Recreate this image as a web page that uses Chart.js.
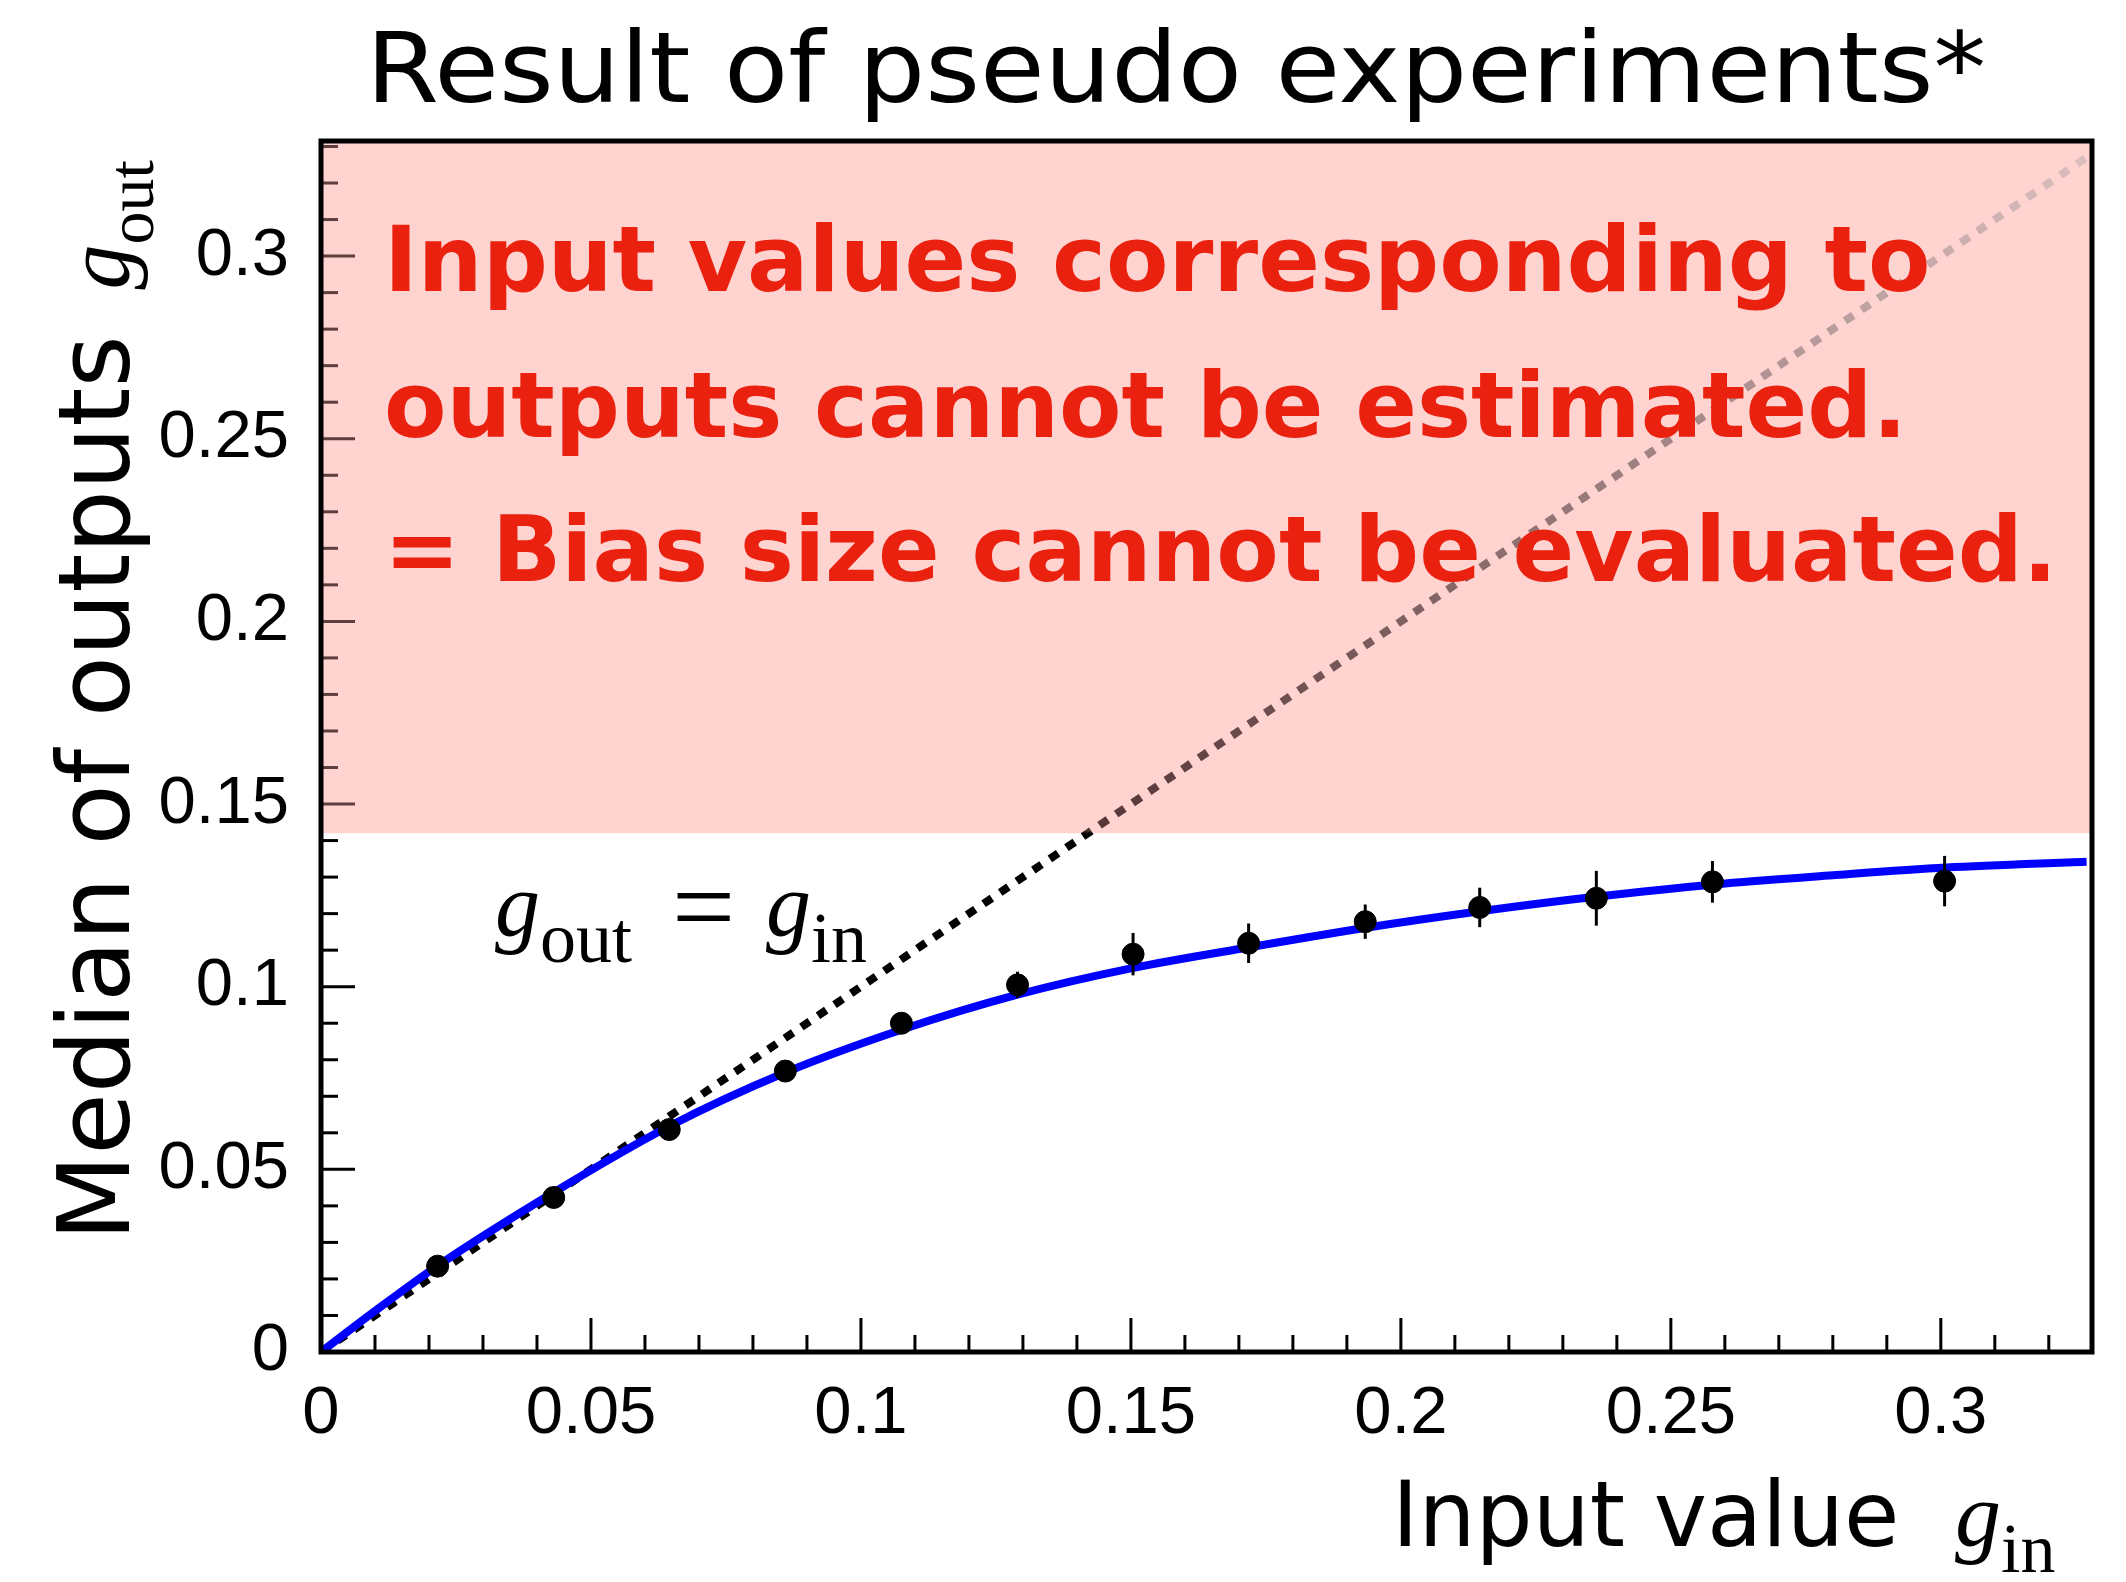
<!DOCTYPE html>
<html>
<head>
<meta charset="utf-8">
<title>Result of pseudo experiments</title>
<script src="https://cdn.jsdelivr.net/npm/chart.js@4.4.1/dist/chart.umd.min.js"></script>
<style>
html,body{margin:0;padding:0;background:#fff;}
#wrap{width:2126px;height:1582px;}
</style>
</head>
<body>
<div id="wrap"><canvas id="chart" width="2126" height="1582"></canvas></div>
<script>
// values
const gIn=[0.0216,0.0431,0.0645,0.086,0.1075,0.129,0.1504,0.1718,0.1934,0.2146,0.2362,0.2577,0.3007];
const gOutMedian=[0.0235,0.0423,0.0609,0.0769,0.0900,0.1005,0.1089,0.1119,0.1178,0.1217,0.1242,0.1287,0.1289];
const gOutErr=[0.001,0.0012,0.0015,0.002,0.0025,0.0036,0.0058,0.0054,0.0047,0.0054,0.0075,0.0057,0.0069];

// fitted curve (blue), read at points along the line
const fitIn=[0,0.01,0.0216,0.043,0.0645,0.086,0.1075,0.129,0.15,0.172,0.193,0.215,0.236,0.258,0.28,0.301,0.327];
const fitOut=[0,0.0112,0.0236,0.0436,0.0618,0.0765,0.0882,0.0978,0.1050,0.1108,0.1160,0.1207,0.1246,0.1280,0.1305,0.1326,0.1342];

// g_out = g_in reference line
const diagIn=[0,0.328];
const diagOut=[0,0.328];

const xTicks=[0,0.05,0.1,0.15,0.2,0.25,0.3];
const yTicks=[0,0.05,0.1,0.15,0.2,0.25,0.3];
const xMax=0.328,yMax=0.3315;
const bandFrom=0.142;

const title="Result of pseudo experiments*";
const note=["Input values corresponding to","outputs cannot be estimated.","= Bias size cannot be evaluated."];

const pts=(xs,ys)=>xs.map((x,i)=>({x:x,y:ys[i]}));

function diagColor(c){
const ch=c.chart;
if(!ch.chartArea) return "#000";
const y=ch.scales.y;
const y0=y.getPixelForValue(0),y1=y.getPixelForValue(diagOut[1]);
const t=(y0-y.getPixelForValue(bandFrom))/(y0-y1);
const g=ch.ctx.createLinearGradient(0,y0,0,y1);
g.addColorStop(0,"#000");
g.addColorStop(t,"#000");
g.addColorStop(Math.min(1,t+0.002),"#553535");
g.addColorStop(1,"#dcc0c0");
return g;
}

// subscript helper: base text then smaller lowered text
function subText(ctx,x,y,base,sub,bFont,sFont,drop){
ctx.font=bFont;
ctx.fillText(base,x,y);
const w=ctx.measureText(base).width;
ctx.font=sFont;
ctx.fillText(sub,x+w,y+drop);
return x+w+ctx.measureText(sub).width;
}

// text squeezed/stretched to a given width
function fitText(ctx,txt,x,y,w){
const m=ctx.measureText(txt).width;
ctx.save();
ctx.translate(x,y);
ctx.scale(w/m,1);
ctx.fillText(txt,0,0);
ctx.restore();
}

const decor={
id:"decor",
beforeDatasetsDraw(chart){
const {ctx,chartArea:a,scales:{y}}=chart;
const yb=y.getPixelForValue(bandFrom);
ctx.save();
ctx.fillStyle="#ffd3d0";
ctx.fillRect(a.left,a.top,a.right-a.left,yb-a.top);
ctx.restore();
},
afterDatasetsDraw(chart){
const {ctx,chartArea:a,scales:{x,y}}=chart;
ctx.save();

// error bars
ctx.strokeStyle="#000";
ctx.lineWidth=3;
gIn.forEach((v,i)=>{
const px=x.getPixelForValue(v);
ctx.beginPath();
ctx.moveTo(px,y.getPixelForValue(gOutMedian[i]-gOutErr[i]));
ctx.lineTo(px,y.getPixelForValue(gOutMedian[i]+gOutErr[i]));
ctx.stroke();
});

// inward ticks
ctx.lineWidth=3;
for(let k=1;k*0.01<xMax;k++){
const v=k*0.01,major=k%5===0;
const px=x.getPixelForValue(v);
ctx.strokeStyle="#000";
ctx.beginPath();ctx.moveTo(px,a.bottom);ctx.lineTo(px,a.bottom-(major?34:17));ctx.stroke();
}
for(let k=1;k*0.01<yMax;k++){
const v=k*0.01,major=k%5===0;
const py=y.getPixelForValue(v);
ctx.strokeStyle=v>bandFrom?"#5e3f3f":"#000";
ctx.beginPath();ctx.moveTo(a.left,py);ctx.lineTo(a.left+(major?34:17),py);ctx.stroke();
}

// frame
ctx.strokeStyle="#000";
ctx.lineWidth=5;
ctx.strokeRect(a.left,a.top,a.right-a.left,a.bottom-a.top);

// red note
ctx.fillStyle="#eb2110";
ctx.font='bold 91px "DejaVu Sans"';
ctx.textAlign="left";
ctx.textBaseline="alphabetic";
[291,437,581].forEach((b,i)=>ctx.fillText(note[i],384,b));

// g_out = g_in label
ctx.fillStyle="#000";
ctx.font='italic 90px "Liberation Serif"';
ctx.fillText("g",495,936);
ctx.font='72px "Liberation Serif"';
ctx.fillText("out",540,962);
ctx.font='112px "Liberation Serif"';
ctx.fillText("=",672,944);
ctx.font='italic 90px "Liberation Serif"';
ctx.fillText("g",766,936);
ctx.font='72px "Liberation Serif"';
ctx.fillText("in",811,962);

// title
ctx.font='98px "DejaVu Sans"';
fitText(ctx,title,366,102,1620);

// x axis title
ctx.font='90px "DejaVu Sans"';
ctx.fillText("Input value",1392,1546);
const wx=1392+ctx.measureText("Input value ").width;
subText(ctx,wx+27,1546,"g","in",'italic 92px "Liberation Serif"','70px "Liberation Serif"',26);

// y axis title
ctx.translate(129,1241);
ctx.rotate(-Math.PI/2);
ctx.font='100px "DejaVu Sans"';
ctx.fillText("Median of outputs",0,0);
const wy=ctx.measureText("Median of outputs ").width;
subText(ctx,wy+14,0,"g","out",'italic 90px "Liberation Serif"','66px "Liberation Serif"',24);

ctx.restore();
}
};

new Chart(document.getElementById("chart"),{
type:"scatter",
data:{
datasets:[
{
label:"median",
data:pts(gIn,gOutMedian),
backgroundColor:"#000",
borderColor:"#000",
pointRadius:11,
pointHoverRadius:11,
showLine:false
},
{
label:"fit",
data:pts(fitIn,fitOut),
showLine:true,
borderColor:"#0000ff",
borderWidth:8,
pointRadius:0,
cubicInterpolationMode:"monotone"
},
{
label:"gout=gin",
data:pts(diagIn,diagOut),
showLine:true,
borderColor:diagColor,
borderWidth:8,
borderDash:[10,10],
pointRadius:0
}
]
},
options:{
responsive:false,
animation:false,
devicePixelRatio:1,
layout:{padding:{top:141,right:34,left:0,bottom:0}},
plugins:{legend:{display:false},tooltip:{enabled:false},title:{display:false}},
scales:{
x:{
type:"linear",
min:0,max:xMax,
grid:{display:false,drawTicks:false},
border:{display:false},
afterBuildTicks:s=>{s.ticks=xTicks.map(v=>({value:v}));},
afterFit:s=>{s.height=230;},
ticks:{
padding:22,
color:"#000",
font:{family:"Liberation Sans",size:67},
maxRotation:0,
callback:v=>String(+v.toFixed(2))
}
},
y:{
type:"linear",
min:0,max:yMax,
grid:{display:false,drawTicks:false},
border:{display:false},
afterBuildTicks:s=>{s.ticks=yTicks.map(v=>({value:v}));},
afterFit:s=>{s.width=321;},
ticks:{
padding:32,
color:"#000",
font:{family:"Liberation Sans",size:67},
callback:v=>String(+v.toFixed(2))
}
}
}
},
plugins:[decor]
});
</script>
</body>
</html>
